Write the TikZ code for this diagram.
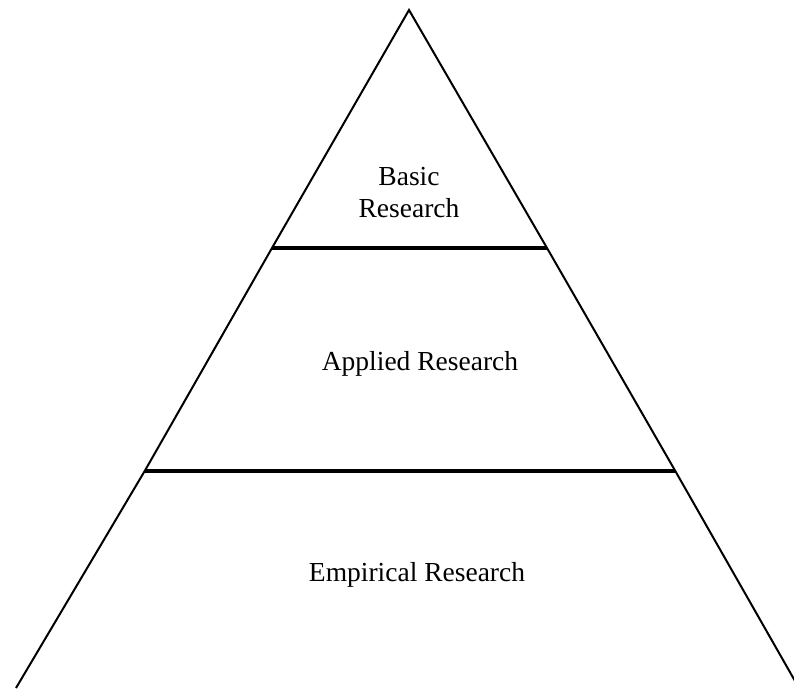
\documentclass[tikz,border=0pt]{standalone}
\usepackage{fontspec}
\setmainfont{Liberation Serif}

\tikzset{
    side/.style={line width=2pt, line join=miter},
    divider/.style={line width=4pt},
    layer/.style={inner sep=0pt, align=center, font=\fontsize{27.5}{32}\selectfont}
}

\begin{document}
\begin{tikzpicture}[x=1pt, y=-1pt]
    % Fix the page to the size of the reference
    \useasboundingbox (0,0) rectangle (794,688);
    % Corners of the pyramid and ends of the dividing lines
    \coordinate (apex) at (409,10);
    \coordinate (la) at (272,248);
    \coordinate (ra) at (547,248);
    \coordinate (lb) at (145,470.5);
    \coordinate (rb) at (675,470.5);
    \coordinate (bl) at (16,688);
    \coordinate (br) at (799,688);
    % Sides of the pyramid, the base is not drawn
    \draw[side] (bl) -- (lb) -- (la) -- (apex) -- (ra) -- (rb) -- (br);
    % Dividing lines between the layers
    \draw[divider] (la) -- (ra);
    \draw[divider] (lb) -- (rb);
    % Labels of the layers
    \node[layer] (basic) at (409,193) {Basic\\Research};
    \node[layer] (applied) at (420,364) {Applied Research};
    \node[layer] (empirical) at (417,575) {Empirical Research};
\end{tikzpicture}
\end{document}
